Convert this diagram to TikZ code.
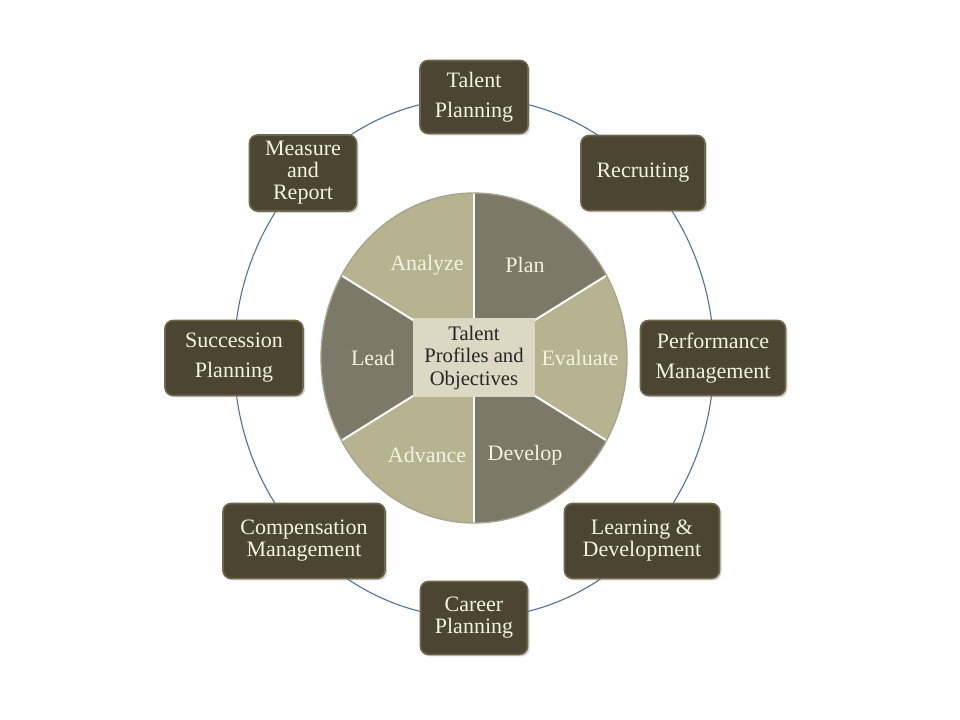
\documentclass[tikz,border=0pt]{standalone}
\usepackage{fontspec}
\setmainfont{Liberation Serif}
\usetikzlibrary{shadows,calc}
\definecolor{boxfill}{HTML}{4B4531}
\definecolor{boxedge}{HTML}{6E674C}
\definecolor{boxtext}{HTML}{F6F2E2}
\definecolor{pielight}{HTML}{B7B28F}
\definecolor{piedark}{HTML}{7D7968}
\definecolor{pieedge}{HTML}{A8A48C}
\definecolor{centerfill}{HTML}{DCD8C4}
\definecolor{connblue}{HTML}{4F6E9C}
\begin{document}
\begin{tikzpicture}[x=0.75pt,y=0.75pt,
  box/.style={draw=boxedge, line width=1.2pt, fill=boxfill, rounded corners=6pt,
    text=boxtext, align=center, inner sep=0pt,
    drop shadow={opacity=0.3, shadow xshift=1.5pt, shadow yshift=-1.5pt}},
  wide/.style={font=\fontsize{16.5}{22.5}\selectfont},
  tight/.style={font=\fontsize{16.5}{16.5}\selectfont},
  pielabel/.style={text=boxtext, font=\fontsize{16.5}{18}\selectfont, inner sep=0pt},
  conn/.style={draw=connblue, line width=0.8pt},
]
\useasboundingbox (0,0) rectangle (960,720);
\fill[white] (0,0) rectangle (960,720);
\coordinate (C) at (474,362);

% connector ring
\draw[conn] (C) ellipse [x radius=180pt, y radius=195pt];

% pie sectors
\foreach \s/\e/\col in {30/90/piedark, -30/30/pielight, -90/-30/piedark,
                        210/270/pielight, 150/210/piedark, 90/150/pielight}{
  \fill[\col] (C) -- ++(\s:114.75pt and 123.75pt)
     arc[start angle=\s, end angle=\e, x radius=114.75pt, y radius=123.75pt] -- cycle;
}
\foreach \a in {30,90,150,210,270,330}{
  \draw[white, line width=1.5pt] (C) -- ++(\a:114.75pt and 123.75pt);
}
\draw[pieedge, line width=1pt] (C) ellipse [x radius=114.75pt, y radius=123.75pt];

% centre
\node[fill=centerfill, minimum width=91.5pt, minimum height=59.25pt, inner sep=0pt,
      align=center, font=\fontsize{15.5}{17.2}\selectfont, text=black!85] (core) at (C)
  {Talent\\Profiles and\\Objectives};

% pie labels
\node[pielabel] (analyze) at (427,455) {Analyze};
\node[pielabel] (plan) at (525,455) {Plan};
\node[pielabel] (lead) at (373,362) {Lead};
\node[pielabel] (evaluate) at (580,362) {Evaluate};
\node[pielabel] (advance) at (427,265) {Advance};
\node[pielabel] (develop) at (525,265) {Develop};

% outer boxes
\node[box, wide, minimum width=81pt, minimum height=54.75pt] (talent) at (474,623) {Talent\\Planning};
\node[box, tight, minimum width=93pt, minimum height=56.25pt] (recruit) at (643,547) {Recruiting};
\node[box, wide, minimum width=108.75pt, minimum height=56.25pt] (perf) at (713,362) {Performance\\Management};
\node[box, tight, minimum width=116.25pt, minimum height=56.25pt] (learn) at (642,179) {Learning \&\\Development};
\node[box, tight, minimum width=80.25pt, minimum height=54.75pt] (career) at (474,102) {Career\\Planning};
\node[box, tight, minimum width=121.5pt, minimum height=56.25pt] (comp) at (304,179) {Compensation\\Management};
\node[box, wide, minimum width=103.5pt, minimum height=56.25pt] (succ) at (234,362) {Succession\\Planning};
\node[box, tight, minimum width=80.25pt, minimum height=57pt] (measure) at (303,547) {Measure\\and\\Report};
\end{tikzpicture}
\end{document}
